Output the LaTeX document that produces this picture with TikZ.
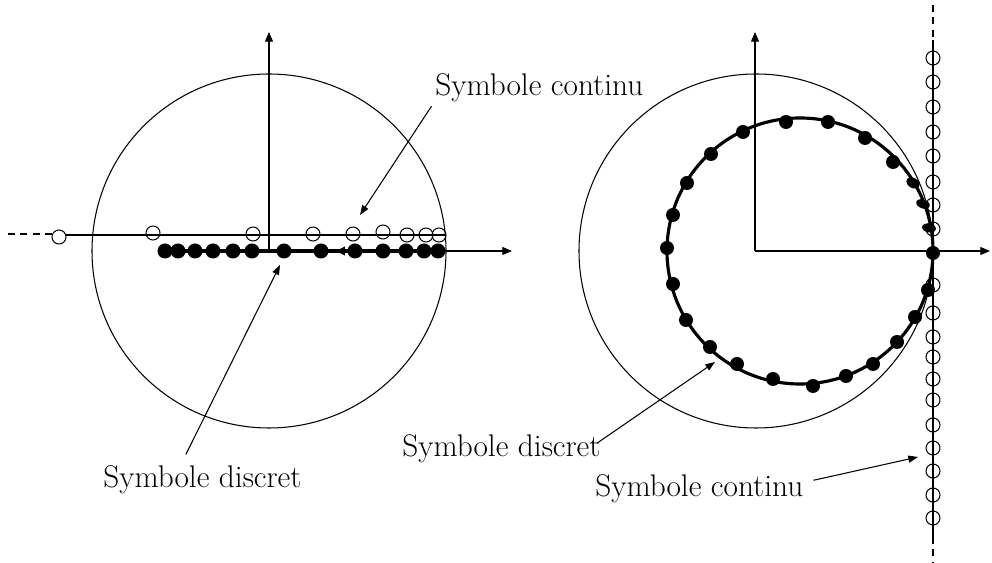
\documentclass[tikz,border=0pt]{standalone}
\usepackage{tikz}
\usetikzlibrary{arrows.meta}

\begin{document}
\begin{tikzpicture}[
  x=0.02cm, y=-0.02cm,
  axisline/.style={
    -{Triangle[length=5.5pt,width=4.5pt]},
    line width=0.6pt
  },
  thinline/.style={line width=0.6pt},
  locus/.style={line width=1.8pt},
  dashline/.style={
    line width=0.6pt,
    dash pattern=on 4pt off 3pt
  },
  openpt/.style={line width=0.6pt},
  symtext/.style={
    font=\fontsize{17.8}{21}\selectfont,
    inner sep=2pt,
    anchor=base west
  },
  pointer/.style={
    -{Triangle[length=5.5pt,width=4pt]},
    line width=0.6pt
  }
]
\useasboundingbox (0,0) rectangle (992,563);

% Left plane: unit circle and axes
\draw[thinline] (269,251) circle (177);
\draw[axisline] (269,251) -- (269,32);
\draw[axisline] (269,251) -- (512,251);

% Continuous symbols on the real axis
\draw[dashline] (8,234) -- (52,234);
\draw[thinline] (66,235) -- (446,235);
\draw[openpt] (59,237) circle (7);
\foreach \px/\py in {153/233, 253/234, 313/234, 353/234, 383/232, 407/235, 426/235, 439/235}
  \draw[openpt] (\px,\py) circle (7);

% Discrete symbols
\draw[locus] (165,251) -- (438,251);
\draw[-{Triangle[length=5pt,width=5pt]}, line width=0.6pt] (352,251) -- (336,251);
\foreach \px in {165, 178, 195, 213, 233, 252, 284, 321, 355, 383, 406, 424, 438}
  \fill (\px,251) circle (7.5);

% Left labels
\node[symtext] (lcont) at (431.5,96) {Symbole continu};
\node[symtext] (ldisc) at (99.5,488) {Symbole discret};
\coordinate (lconttip) at (360,215);
\coordinate (ldisctip) at (280,265);
\draw[pointer] (lcont.south west) -- (lconttip);
\draw[pointer] ([shift={(-16.5,-8)}]ldisc.north) -- (ldisctip);

% Right plane: unit circle and axes
\draw[thinline] (756,251) circle (177);
\draw[axisline] (755,251) -- (755,32);
\draw[axisline] (755,251) -- (990,251);

% Continuous symbols on the line Re = 1
\draw[dashline] (933,5) -- (933,40);
\draw[thinline] (933,40) -- (933,537);
\draw[dashline] (933,537) -- (933,563);
\foreach \py in {58, 82, 107, 132, 156, 182, 205, 229, 285, 313, 337, 357, 379, 400, 425, 448, 471, 495, 518}
  \draw[openpt] (933,\py) circle (7);

% Discrete symbols on the inner circle
\draw[locus] (800,251) circle (133);
\foreach \px/\py in {786/122, 828/122, 865/138, 893/162, 933/253, 928/290,
                     743/132, 711/154, 687/183, 673/215, 667/248, 673/284,
                     686/320, 710/347, 737/364, 773/379, 813/386, 846/376,
                     873/364, 897/342, 915/317}
  \fill (\px,\py) circle (7);
\fill (913,183) ellipse [x radius=7, y radius=5, rotate=-30];
\fill (923,204) ellipse [x radius=7, y radius=4.5, rotate=-20];
\fill (929,228) ellipse [x radius=7, y radius=4.5, rotate=-10];

% Right labels
\node[symtext] (rdisc) at (398.5,457) {Symbole discret};
\node[symtext] (rcont) at (591.5,497) {Symbole continu};
\coordinate (rdisctip) at (715,362);
\coordinate (rconttip) at (918,457);
\draw[pointer] ([shift={(-7.5,12)}]rdisc.north east) -- (rdisctip);
\draw[pointer] ([shift={(6.5,9)}]rcont.north east) -- (rconttip);

\end{tikzpicture}
\end{document}
